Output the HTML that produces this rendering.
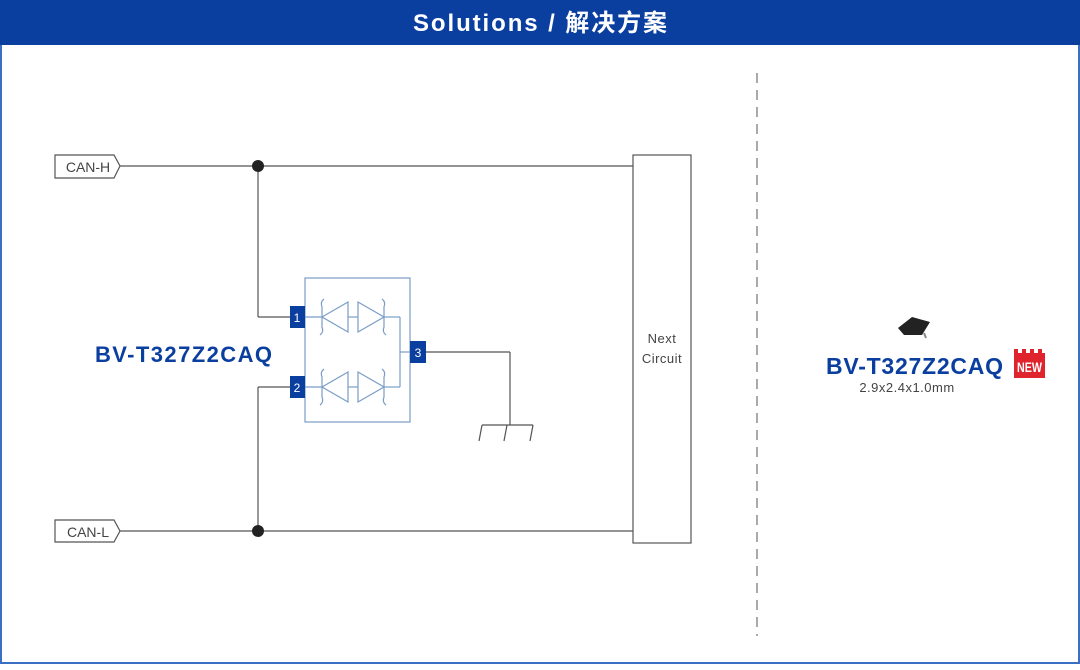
<!DOCTYPE html>
<html><head><meta charset="utf-8"><style>
body{margin:0;width:1080px;height:665px;overflow:hidden;background:#fff}
</style></head><body>
<svg width="1080" height="665" viewBox="0 0 1080 665" xmlns="http://www.w3.org/2000/svg" font-family="Liberation Sans, Noto Sans CJK SC, sans-serif">
<rect x="1" y="1" width="1078" height="662" fill="#fff" stroke="#3a6fc4" stroke-width="2"/>
<rect x="0" y="0" width="1080" height="45" fill="#0a3fa0"/>
<text x="540" y="31" fill="#fff" font-size="24" font-weight="bold" text-anchor="middle" textLength="254" font-family="Liberation Sans, Noto Sans CJK SC, sans-serif">Solutions / 解决方案</text>
<line x1="757" y1="73" x2="757" y2="636" stroke="#aaa" stroke-width="2" stroke-dasharray="10 7"/>
<g stroke="#555" stroke-width="1.2" fill="none">
<polygon points="55,155 114,155 120,166 114,178 55,178" fill="#fff"/>
<polygon points="55,520 114,520 120,531 114,542 55,542" fill="#fff"/>
<line x1="120" y1="166" x2="633" y2="166"/>
<line x1="120" y1="531" x2="633" y2="531"/>
<line x1="258" y1="166" x2="258" y2="317"/><line x1="258" y1="317" x2="290" y2="317"/>
<line x1="258" y1="531" x2="258" y2="387"/><line x1="258" y1="387" x2="290" y2="387"/>
<rect x="633" y="155" width="58" height="388"/>
<line x1="426" y1="352" x2="510" y2="352"/><line x1="510" y1="352" x2="510" y2="425"/>
<line x1="482" y1="425" x2="533" y2="425"/>
<line x1="482" y1="425" x2="479" y2="441"/><line x1="507" y1="425" x2="504" y2="441"/><line x1="533" y1="425" x2="530" y2="441"/>
</g>
<circle cx="258" cy="166" r="6" fill="#222"/>
<circle cx="258" cy="531" r="6" fill="#222"/>
<text x="88" y="172" font-size="14" fill="#444" text-anchor="middle">CAN-H</text>
<text x="88" y="537" font-size="14" fill="#444" text-anchor="middle">CAN-L</text>
<text x="662" y="343" font-size="13" fill="#444" text-anchor="middle" letter-spacing="0.5">Next</text>
<text x="662" y="363" font-size="13" fill="#444" text-anchor="middle" letter-spacing="0.5">Circuit</text>
<g stroke="#7a9cc6" stroke-width="1.2" fill="none">
<rect x="305" y="278" width="105" height="144"/>
<g id="d">
<line x1="305" y1="317" x2="322" y2="317"/>
<polygon points="322,317 348,302 348,332"/>
<path d="M324,299 q-4,3 -2,8 v20 q2,5 -2,8"/>
<line x1="348" y1="317" x2="358" y2="317"/>
<polygon points="384,317 358,302 358,332"/>
<path d="M382,299 q4,3 2,8 v20 q-2,5 2,8"/>
<line x1="384" y1="317" x2="400" y2="317"/>
</g>
<use href="#d" y="70"/>
<line x1="400" y1="317" x2="400" y2="387"/><line x1="400" y1="352" x2="410" y2="352"/>
</g>
<g fill="#0a3fa0"><rect x="290" y="306" width="15" height="22"/><rect x="290" y="376" width="15" height="22"/><rect x="410" y="341" width="16" height="22"/></g>
<g fill="#fff" font-size="12" text-anchor="middle"><text x="297" y="322">1</text><text x="297" y="392">2</text><text x="418" y="357">3</text></g>
<text x="95" y="362" font-size="22" font-weight="bold" fill="#0a3fa0" textLength="177">BV-T327Z2CAQ</text>
<polygon points="898,328 912,317 930,322 922,335 904,335" fill="#222"/>
<line x1="924" y1="333" x2="926" y2="338" stroke="#888" stroke-width="2"/>
<text x="826" y="374" font-size="23" font-weight="bold" fill="#0a3fa0" textLength="177">BV-T327Z2CAQ</text>
<rect x="1014" y="353" width="31" height="25" fill="#e0242e"/>
<rect x="1014" y="349" width="4" height="5" fill="#e0242e"/><rect x="1022" y="349" width="4" height="5" fill="#e0242e"/><rect x="1030" y="349" width="4" height="5" fill="#e0242e"/><rect x="1038" y="349" width="4" height="5" fill="#e0242e"/>
<text x="1017" y="372" font-size="14" font-weight="bold" fill="#fff" textLength="25" lengthAdjust="spacingAndGlyphs">NEW</text>
<text x="907" y="392" font-size="13" fill="#444" text-anchor="middle" letter-spacing="0.5">2.9x2.4x1.0mm</text>
</svg>
</body></html>
